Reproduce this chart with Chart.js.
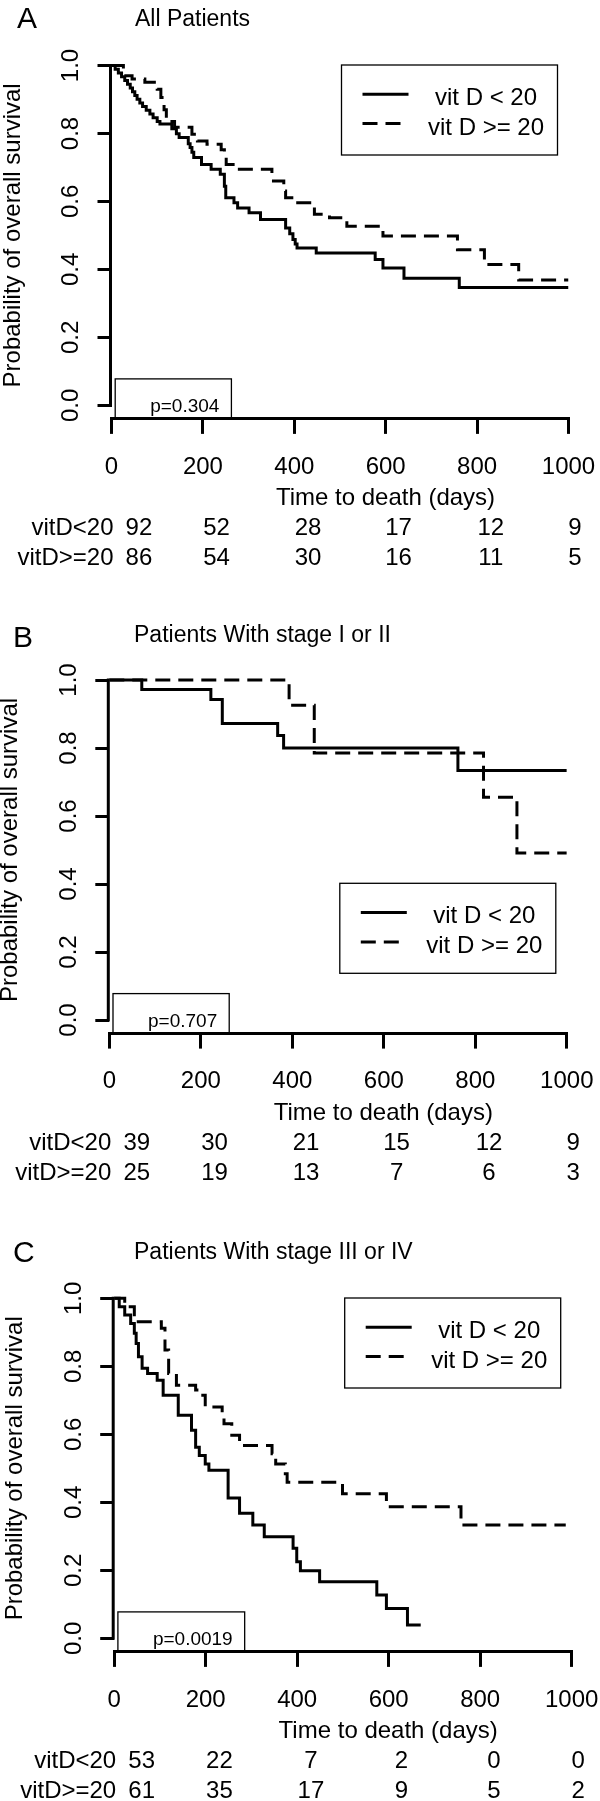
<!DOCTYPE html>
<html>
<head>
<meta charset="utf-8">
<script src="https://cdn.jsdelivr.net/npm/chart.js@4.4.1/dist/chart.umd.min.js"></script>
<style>
html,body{margin:0;padding:0;background:#fff;}
body{width:600px;height:1801px;position:relative;overflow:hidden;}
canvas{position:absolute;left:0;display:block;}
</style>
</head>
<body>
<canvas id="cA" width="600" height="600" style="top:0px"></canvas>
<canvas id="cB" width="600" height="600" style="top:600px"></canvas>
<canvas id="cC" width="600" height="601" style="top:1200px"></canvas>
<script>
// ---------------- DATA ----------------
const xTicks = [0, 200, 400, 600, 800, 1000];
const yTicks = [0, 0.2, 0.4, 0.6, 0.8, 1.0];
const seriesNames = ['vit D < 20', 'vit D >= 20'];
const riskRowLabels = ['vitD<20', 'vitD>=20'];
const riskTimes = [0, 200, 400, 600, 800, 1000];
const xTitle = 'Time to death (days)';
const yTitle = 'Probability of overall survival';

// Panel A
const aTitle = 'All Patients';
const aLowT = [0,8,15,22,29,35,41,46,51,56,62,68,76,84,91,100,106,132,142,148,168,172,176,180,197,218,238,247,250,268,276,301,326,381,390,397,402,406,448,577,594,640,761,1000];
const aLowS = [1,.989,.978,.967,.956,.945,.934,.923,.912,.901,.890,.879,.868,.857,.846,.835,.828,.814,.799,.788,.770,.759,.745,.729,.709,.695,.680,.645,.611,.596,.581,.567,.547,.522,.505,.488,.475,.463,.448,.429,.404,.374,.347,.347];
const aHighT = [0,26,45,73,100,108,115,120,138,176,188,209,240,247,251,272,351,377,381,402,444,477,515,594,757,816,891,1000];
const aHighS = [1,.97,.96,.951,.93,.906,.87,.835,.818,.798,.778,.768,.752,.739,.709,.695,.66,.631,.611,.596,.562,.552,.527,.498,.458,.414,.369,.369];
const aRiskLow = [92, 52, 28, 17, 12, 9];
const aRiskHigh = [86, 54, 30, 16, 11, 5];
const aPValue = 'p=0.304';

// Panel B
const bTitle = 'Patients With stage I or II';
const bLowT = [0,71,222,247,368,381,762,1000];
const bLowS = [1,.972,.943,.872,.837,.80,.734,.734];
const bHighT = [0,393,448,818,891,1000];
const bHighS = [1,.926,.785,.655,.491,.491];
const bRiskLow = [39, 30, 21, 15, 12, 9];
const bRiskHigh = [25, 19, 13, 7, 6, 3];
const bPValue = 'p=0.707';

// Panel C
const cTitle = 'Patients With stage III or IV';
const cLowT = [0,11,23,36,44,48,53,61,73,94,107,140,169,178,186,199,207,249,274,303,328,391,399,407,449,574,595,641,670];
const cLowS = [1,.975,.951,.926,.897,.867,.828,.794,.779,.759,.715,.656,.612,.562,.538,.513,.494,.413,.368,.333,.299,.265,.225,.199,.166,.127,.088,.039,.039];
const cHighT = [0,23,44,103,111,119,136,178,186,199,236,240,257,274,345,353,374,378,499,595,758,987];
const cHighS = [1,.975,.931,.912,.848,.779,.744,.730,.715,.68,.656,.631,.597,.567,.543,.513,.484,.459,.425,.387,.333,.333];
const cRiskLow = [53, 22, 7, 2, 0, 0];
const cRiskHigh = [61, 35, 17, 9, 5, 2];
const cPValue = 'p=0.0019';

// ---------------- LAYOUT / STYLE ----------------
const FONT = "'Liberation Sans', Arial, Helvetica, sans-serif";
const DASH = [15, 8];
const RISK_X_DAYS = [60, 230, 430, 628, 830, 1014];

const kmDecor = {
  id: 'kmDecor',
  afterDraw(chart, args, o) {
    const ctx = chart.ctx, ca = chart.chartArea, x = chart.scales.x, y = chart.scales.y;
    const axisY = x.top;
    ctx.save();
    ctx.fillStyle = '#000';
    ctx.strokeStyle = '#000';
    // y axis line from 0 to 1
    ctx.lineWidth = 3;
    ctx.lineCap = 'square';
    ctx.beginPath();
    ctx.moveTo(ca.left - 1, y.getPixelForValue(1));
    ctx.lineTo(ca.left - 1, y.getPixelForValue(0));
    ctx.stroke();
    ctx.lineCap = 'butt';

    // panel letter + title
    ctx.textAlign = 'left';
    ctx.textBaseline = 'alphabetic';
    ctx.font = '30px ' + FONT;
    ctx.fillText(o.letter, o.letterX, o.letterBase);
    ctx.font = '23px ' + FONT;
    ctx.fillText(o.title, o.titleX, o.titleBase);

    // y title
    ctx.save();
    ctx.translate(ca.left - 98.5, (y.getPixelForValue(0) + y.getPixelForValue(1)) / 2);
    ctx.rotate(-Math.PI / 2);
    ctx.font = '24px ' + FONT;
    ctx.textAlign = 'center';
    ctx.textBaseline = 'middle';
    ctx.fillText(yTitle, 0, 0);
    ctx.restore();

    // x title
    ctx.font = '24px ' + FONT;
    ctx.textAlign = 'center';
    ctx.textBaseline = 'alphabetic';
    ctx.fillText(xTitle, ca.left + 274, axisY + 86);

    // risk table
    const rows = [o.riskLow, o.riskHigh];
    rows.forEach((row, r) => {
      const base = axisY + 116 + r * 30;
      ctx.textAlign = 'right';
      ctx.fillText(riskRowLabels[r], ca.left + 2, base);
      ctx.textAlign = 'center';
      row.forEach((n, i) => {
        ctx.fillText(String(n), x.getPixelForValue(RISK_X_DAYS[i]), base);
      });
    });

    // p-value box
    ctx.font = '19px ' + FONT;
    const tw = ctx.measureText(o.pValue).width;
    const bw = tw + 47, bl = ca.left + 3.7, bt = axisY - 40;
    ctx.lineWidth = 1.3;
    ctx.strokeRect(bl, bt, bw, axisY - bt);
    ctx.textAlign = 'right';
    ctx.fillText(o.pValue, bl + bw - 12, axisY - 7);

    // legend
    const lw = 216, lh = 90;
    const lr = ca.right - 11, ll = lr - lw, lt = o.legendTop;
    ctx.lineWidth = 1.3;
    ctx.strokeRect(ll, lt, lw, lh);
    ctx.font = '24px ' + FONT;
    ctx.textAlign = 'center';
    chart.data.datasets.forEach((ds, i) => {
      const ly = lt + 29.3 + i * 29.3;
      ctx.lineWidth = 3;
      ctx.setLineDash(ds.borderDash || []);
      ctx.beginPath();
      ctx.moveTo(ll + 21, ly);
      ctx.lineTo(ll + 67, ly);
      ctx.stroke();
      ctx.setLineDash([]);
      ctx.fillText(ds.label, ll + 144.5, lt + 40 + i * 30);
    });
    ctx.restore();
  }
};

function buildPanel(canvasId, L, deco, lowT, lowS, highT, highS) {
  const span = L.y0 - L.y1;
  const topPx = L.y1 - 0.04 * span;
  const axisPx = L.y0 + 0.04 * span;
  const XH = 60;
  const mk = (t, s) => t.map((v, k) => ({ x: v, y: s[k] }));
  new Chart(document.getElementById(canvasId), {
    type: 'line',
    data: {
      datasets: [
        { label: seriesNames[0], data: mk(lowT, lowS), stepped: 'before', borderColor: '#000', borderWidth: 3,
          pointRadius: 0, pointHoverRadius: 0, fill: false, borderDash: [], borderCapStyle: 'butt', borderJoinStyle: 'miter' },
        { label: seriesNames[1], data: mk(highT, highS), stepped: 'before', borderColor: '#000', borderWidth: 3,
          pointRadius: 0, pointHoverRadius: 0, fill: false, borderDash: DASH, borderCapStyle: 'butt', borderJoinStyle: 'miter' }
      ]
    },
    options: {
      responsive: false,
      animation: false,
      devicePixelRatio: 1,
      events: [],
      layout: { padding: { left: 0, right: 600 - L.right, top: topPx, bottom: L.h - axisPx - XH } },
      plugins: { legend: { display: false }, tooltip: { enabled: false }, title: { display: false }, kmDecor: deco },
      scales: {
        x: {
          type: 'linear', min: 0, max: 1000, bounds: 'data',
          afterBuildTicks: s => { s.ticks = xTicks.map(v => ({ value: v })); },
          afterFit: s => { s.height = XH; s.paddingLeft = 0; s.paddingRight = 0; },
          grid: { display: true, drawOnChartArea: false, drawTicks: true, tickLength: 15, tickWidth: 3, tickColor: '#000', color: '#000', lineWidth: 3 },
          border: { display: true, color: '#000', width: 3 },
          ticks: { autoSkip: false, minRotation: 0, maxRotation: 0, padding: 18.6, color: '#000',
                   font: { family: FONT, size: 24 }, callback: v => String(v) }
        },
        y: {
          type: 'linear', min: -0.04, max: 1.04, bounds: 'data',
          afterBuildTicks: s => { s.ticks = yTicks.map(v => ({ value: v })); },
          afterFit: s => { s.width = L.left; s.paddingTop = 0; s.paddingBottom = 0; },
          grid: { display: true, drawOnChartArea: false, drawTicks: true, tickLength: 14, tickWidth: 3, tickColor: '#000', color: '#000', lineWidth: 3 },
          border: { display: false },
          ticks: { autoSkip: false, minRotation: 90, maxRotation: 90, crossAlign: 'center', padding: 9.3, color: '#000',
                   font: { family: FONT, size: 24 }, callback: v => Number(v).toFixed(1) }
        }
      }
    },
    plugins: [kmDecor]
  });
}

buildPanel('cA', { h: 600, left: 111.5, right: 568.5, y1: 65.5, y0: 405.3 },
  { letter: 'A', letterX: 17, letterBase: 28, title: aTitle, titleX: 135, titleBase: 26,
    riskLow: aRiskLow, riskHigh: aRiskHigh, pValue: aPValue, legendTop: 65 },
  aLowT, aLowS, aHighT, aHighS);

buildPanel('cB', { h: 600, left: 109.3, right: 566.8, y1: 80, y0: 420 },
  { letter: 'B', letterX: 13, letterBase: 47, title: bTitle, titleX: 134, titleBase: 42,
    riskLow: bRiskLow, riskHigh: bRiskHigh, pValue: bPValue, legendTop: 283.3 },
  bLowT, bLowS, bHighT, bHighS);

buildPanel('cC', { h: 601, left: 114.2, right: 571.7, y1: 98.3, y0: 438.3 },
  { letter: 'C', letterX: 13, letterBase: 62, title: cTitle, titleX: 134, titleBase: 59,
    riskLow: cRiskLow, riskHigh: cRiskHigh, pValue: cPValue, legendTop: 98 },
  cLowT, cLowS, cHighT, cHighS);
</script>
</body>
</html>
